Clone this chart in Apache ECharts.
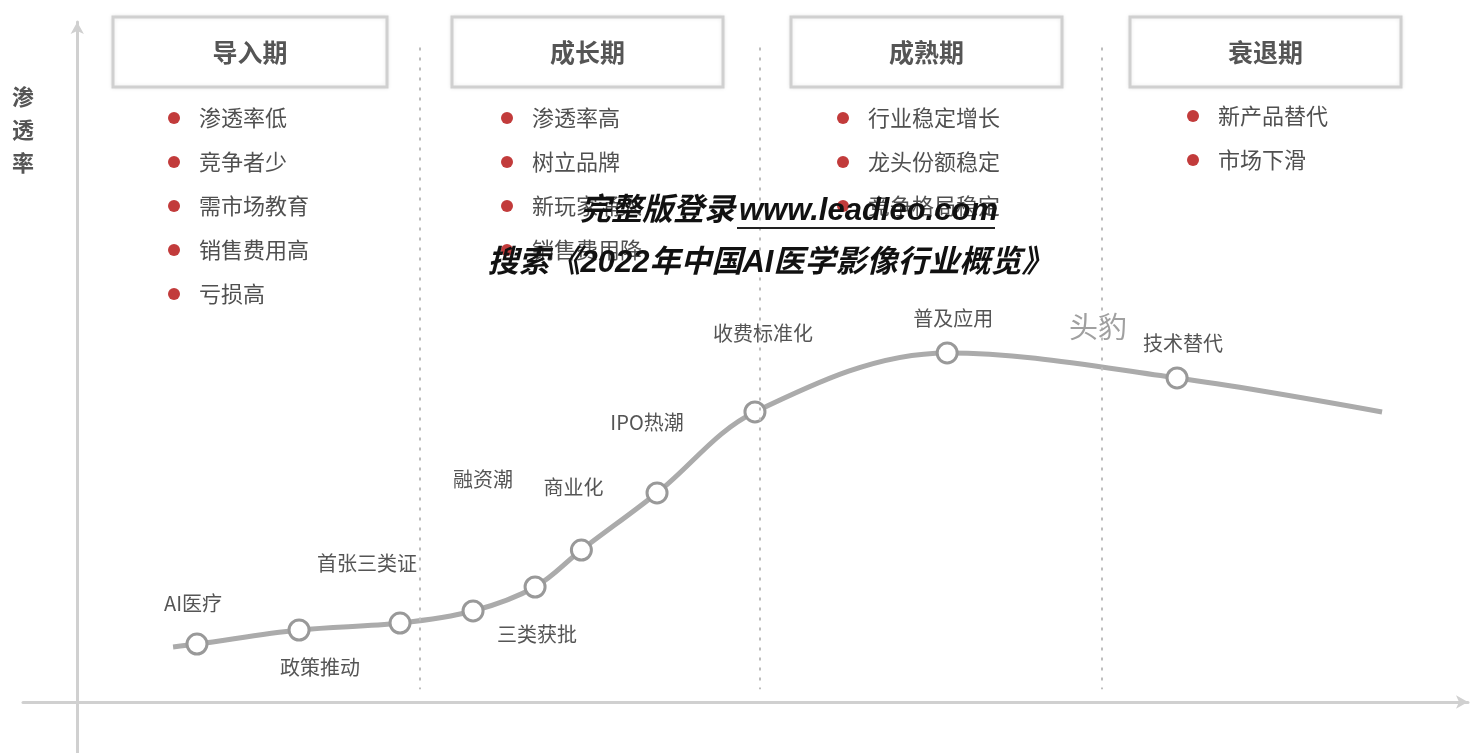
<!DOCTYPE html>
<html>
<head>
<meta charset="utf-8">
<script src="https://cdn.jsdelivr.net/npm/echarts@6/dist/echarts.min.js"></script>
<style>
html,body{margin:0;padding:0;background:#fff;}
#chart{width:1471px;height:753px;}
</style>
</head>
<body>
<div id="chart"></div>
<script>
// ---------------- data ----------------
const yAxisTitle = '渗透率';
const stageNames = ['导入期', '成长期', '成熟期', '衰退期'];
const stage1Bullets = ['渗透率低', '竞争者少', '需市场教育', '销售费用高', '亏损高'];
const stage2Bullets = ['渗透率高', '树立品牌', '新玩家涌入', '销售费用降'];
const stage3Bullets = ['行业稳定增长', '龙头份额稳定', '竞争格局稳定'];
const stage4Bullets = ['新产品替代', '市场下滑'];
// curve points (x: time index, y: penetration level)
const curveX = [6.89, 8.61, 15.95, 23.21, 28.46, 32.92, 36.25, 41.69, 48.73, 62.55, 79.08, 93.82];
const curveY = [6.47, 6.82, 8.47, 9.29, 10.71, 13.53, 17.88, 24.59, 34.12, 41.06, 38.12, 34.12];
const pointLabels = ['', 'AI医疗', '政策推动', '首张三类证', '融资潮', '三类获批', '商业化', 'IPO热潮', '收费标准化', '普及应用', '技术替代', ''];
const stageDividers = [24.65, 49.09, 73.68];
const watermark1a = '完整版登录';
const watermark1b = 'www.leadleo.com';
const watermark2 = '搜索《2022年中国AI医学影像行业概览》';
const brandText = '头豹';

// ---------------- layout / style ----------------
const labelOffsets = [[0,0],[-4,-41],[21,37],[-33,-60],[10,-132],[2,47],[-8,-63],[-10,-71],[8,-79],[6,-35],[6,-35],[0,0]];
const CJK = '"Noto Sans CJK SC", "Noto Sans", sans-serif';
const boxes = [[113,387],[452,723],[791,1062],[1130,1401]];
const bulletDotX = [174, 507, 843, 1193];
const bulletRows = [118, 162, 206, 250, 294];
const allBullets = [stage1Bullets, stage2Bullets, stage3Bullets, stage4Bullets];

function txt(x, y, text, font, fill, align, extra) {
  return Object.assign({
    type: 'text', x: x, y: y, z: 10,
    style: {
      text: text, font: font, fill: fill,
      align: align || 'center', textAlign: align || 'center',
      verticalAlign: 'middle', textVerticalAlign: 'middle'
    }
  }, extra || {});
}

const graphics = [];
// stage boxes & titles
boxes.forEach((b, i) => {
  graphics.push({
    type: 'rect', z: 5,
    shape: { x: b[0], y: 17, width: b[1] - b[0], height: 70 },
    style: { fill: '#fff', stroke: '#d0d0d0', lineWidth: 3, shadowBlur: 4, shadowColor: 'rgba(0,0,0,0.08)' }
  });
  graphics.push(txt((b[0] + b[1]) / 2, 52, stageNames[i], 'bold 25px ' + CJK, '#555'));
});
// bullets
allBullets.forEach((list, i) => {
  list.forEach((t, j) => {
    const y = bulletRows[j] - (i === 3 ? 2 : 0);
    graphics.push({ type: 'circle', z: 10, shape: { cx: bulletDotX[i], cy: y, r: 6 }, style: { fill: '#c23b3b' } });
    graphics.push(txt(bulletDotX[i] + 25, y, t, '22px ' + CJK, '#505050', 'left'));
  });
});
// y axis title
graphics.push(txt(23, 130, yAxisTitle.split('').join('\n'), 'bold 22px ' + CJK, '#555', 'center', {}));
graphics[graphics.length - 1].style.lineHeight = 33;
// brand
graphics.push(txt(1098, 327, brandText, '29px ' + CJK, '#a0a0a0'));
// watermark
const wmFont = 'italic bold 31px "Liberation Sans", ' + CJK;
graphics.push(txt(735, 211, watermark1a, wmFont, '#111', 'right', { z: 20 }));
graphics.push(txt(739, 211, watermark1b, wmFont, '#111', 'left', { z: 20 }));
graphics.push({ type: 'line', z: 20, shape: { x1: 737, y1: 228, x2: 995, y2: 228 }, style: { stroke: '#222', lineWidth: 2 } });
graphics.push(txt(770, 263, watermark2, wmFont, '#111', 'center', { z: 20 }));

const seriesData = curveX.map((x, i) => {
  const item = { value: [x, curveY[i]] };
  if (!pointLabels[i]) {
    item.symbol = 'none';
    item.label = { show: false };
  } else {
    item.label = { offset: labelOffsets[i] };
  }
  return item;
});

const chart = echarts.init(document.getElementById('chart'), null, { renderer: 'canvas' });
chart.setOption({
  backgroundColor: '#fff',
  animation: false,
  grid: { left: 23, right: 3, top: 22, bottom: 0, containLabel: false },
  xAxis: {
    type: 'value', min: -3.9, max: 100,
    axisLine: { onZero: true, lineStyle: { color: '#d0d0d0', width: 3 }, symbol: ['none', 'arrow'], symbolSize: [10, 12] },
    axisTick: { show: false }, axisLabel: { show: false }, splitLine: { show: false }
  },
  yAxis: {
    type: 'value', min: -6, max: 80,
    axisLine: { show: true, onZero: true, lineStyle: { color: '#d0d0d0', width: 3 }, symbol: ['none', 'arrow'], symbolSize: [10, 12] },
    axisTick: { show: false }, axisLabel: { show: false }, splitLine: { show: false }
  },
  series: [{
    type: 'line',
    smooth: 0.35,
    data: seriesData,
    symbol: 'circle',
    symbolSize: 20,
    lineStyle: { color: '#ababab', width: 5 },
    itemStyle: { color: '#ffffff', borderColor: '#999999', borderWidth: 3 },
    label: {
      show: true, position: 'inside',
      formatter: p => pointLabels[p.dataIndex],
      color: '#555', fontSize: 20, fontFamily: '"Noto Sans CJK SC", sans-serif'
    },
    z: 3,
    markLine: {
      silent: true, symbol: 'none', label: { show: false },
      lineStyle: { color: '#bdbdbd', width: 2, type: [3, 7] },
      data: stageDividers.map(x => [{ coord: [x, 77] }, { coord: [x, 1.5] }])
    }
  }],
  graphic: graphics
});
</script>
</body>
</html>
